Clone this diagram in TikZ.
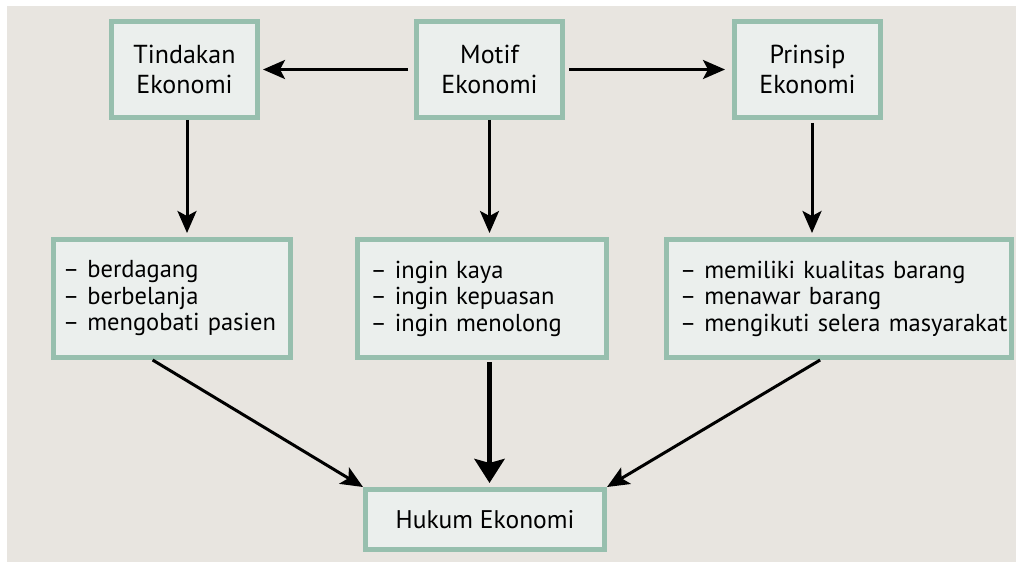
\documentclass[tikz,border=0pt]{standalone}
\usepackage{fontspec}
\setmainfont{PT Sans}
\usetikzlibrary{arrows.meta,calc}
\definecolor{bgc}{HTML}{E8E5E0}
\definecolor{boxfill}{HTML}{EBEFED}
\definecolor{boxline}{HTML}{97BFAE}
\tikzset{
  ebox/.style={draw=boxline, line width=5pt, fill=boxfill, inner sep=0pt, font=\fontsize{26}{29.5}\selectfont},
  topbox/.style={ebox, minimum width=146pt, minimum height=96pt, align=center},
  listbox/.style={ebox, align=left, minimum height=118pt, font=\fontsize{24.5}{26.5}\selectfont},
  conn/.style={line width=3pt, -{Stealth[length=22pt,width=19pt,inset=5pt]}},
  thickconn/.style={line width=5pt, -{Stealth[length=24pt,width=30pt,inset=4pt]}}
}
\begin{document}
\begin{tikzpicture}[x=1pt,y=-1pt]
\useasboundingbox (0,0) rectangle (1016,564);
\fill[white] (0,0) rectangle (1016,564);
\fill[bgc] (7,6) rectangle (1016,562);
\node[topbox] (tin) at (184.5,69.5) {Tindakan\\Ekonomi};
\node[topbox] (mot) at (489.5,69.5) {Motif\\Ekonomi};
\node[topbox] (pri) at (807.5,69.5) {Prinsip\\Ekonomi};
\node[listbox, text width=218pt, inner xsep=9.5pt] (l1) at (172,298.5) {\mbox{-- berdagang}\\\mbox{-- berbelanja}\\\mbox{-- mengobati pasien}};
\node[listbox, text width=222pt, inner xsep=13.5pt] (l2) at (481.5,298.5) {\mbox{-- ingin kaya}\\\mbox{-- ingin kepuasan}\\\mbox{-- ingin menolong}};
\node[listbox, text width=318pt, inner xsep=13.5pt] (l3) at (839,298.5) {\mbox{-- memiliki kualitas barang}\\\mbox{-- menawar barang}\\\mbox{-- mengikuti selera masyarakat}};
\node[ebox, minimum width=239pt, minimum height=60pt, font=\fontsize{25.5}{29}\selectfont] (hk) at (485,519.5) {Hukum Ekonomi};
\draw[conn, shorten <=6pt, shorten >=3pt] (mot.west) -- (tin.east);
\draw[conn, shorten <=4pt, shorten >=7pt] (mot.east) -- (pri.west);
\draw[conn, shorten >=4pt] (tin.south) ++(2.5,0) coordinate (t1) -- (t1 |- l1.north);
\draw[conn, shorten >=4pt] (mot.south) coordinate (m1) -- (m1 |- l2.north);
\draw[conn, shorten <=3pt, shorten >=4pt] (pri.south) ++(4.5,0) coordinate (p1) -- (p1 |- l3.north);
\draw[thickconn, shorten <=2pt, shorten >=4pt] (mot.south |- l2.south) coordinate (m2) -- (m2 |- hk.north);
\draw[conn] ($(l1.south west)!0.42!(l1.south east)$) -- (hk.north west);
\draw[conn] ($(l3.south west)!0.446!(l3.south east)$) -- (hk.north east);
\end{tikzpicture}
\end{document}
